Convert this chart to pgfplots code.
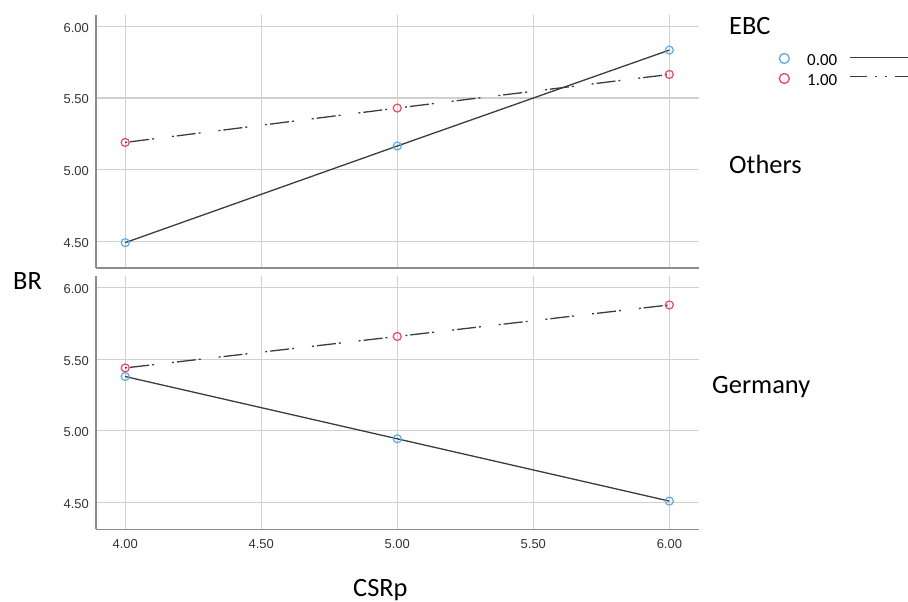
\documentclass[border=0pt]{standalone}
\usepackage{pgfplots}
\pgfplotsset{compat=1.18}
\usepackage{fontspec}
\setmainfont{Carlito}
\newfontfamily\tickfont{Liberation Sans}
\definecolor{ebcblue}{RGB}{91,173,230}
\definecolor{ebcred}{RGB}{235,70,100}
\definecolor{linegray}{RGB}{60,60,60}
\definecolor{gridgray}{RGB}{208,208,208}
\definecolor{axisgray}{RGB}{140,140,140}
\definecolor{tickgray}{RGB}{51,51,51}
\tikzset{dashdotdot/.style={dash pattern=on 2bp off 3bp on 19bp off 3bp on 2bp off 18bp},
  legdash/.style={dash pattern=on 17bp off 8bp on 2bp off 8bp on 2bp off 8bp}}
\pgfplotsset{
  panel/.style={scale only axis, width=603bp, height=253bp,
    xmin=3.8926, xmax=6.109, ymin=4.313, ymax=6.08,
    xtick={4,4.5,5,5.5,6}, ytick={4.5,5,5.5,6},
    grid=major, major grid style={gridgray, line width=1.1bp},
    axis lines*=left, axis line style={axisgray, line width=1.5bp, -},
    major tick length=0pt,
    tick label style={font=\fontsize{13}{13}\selectfont\tickfont, text=tickgray, inner sep=0pt},
    xticklabel style={yshift=-10bp}, yticklabel style={xshift=-7bp, yshift=-1.5bp},
    /pgf/number format/.cd, fixed, fixed zerofill, precision=2, assume math mode=true},
  s0/.style={linegray, line width=1.3bp, mark=o, mark size=4bp, mark options={ebcblue, solid, line width=1.2bp}},
  s1/.style={linegray, line width=1.3bp, dashdotdot, mark=o, mark size=4bp, mark options={ebcred, solid, line width=1.2bp}},
}
\begin{document}
\begin{tikzpicture}
\useasboundingbox (0,0) rectangle (908bp,602bp);
% Top panel: Others
\begin{axis}[panel, at={(96bp,334bp)}, anchor=south west, xticklabels={},
  legend cell align=left,
  legend style={draw=none, fill=none, at={(axis description cs:1.1318,0.8526)}, anchor=north west,
    inner sep=0pt, row sep=0pt, font=\fontsize{17}{20}\selectfont,
    nodes={inner sep=0pt, text height=13bp, text depth=7bp}}]
\addlegendimage{legend image code/.code={\path[draw=none] (0bp,4bp) -- (28.4bp,4bp); \draw[ebcblue, solid, line width=1.3bp] (5.5bp,4bp) circle[radius=5bp]; \draw[overlay, linegray, solid, line width=1.5bp] (71.5bp,5bp) -- (150bp,5bp);}}
\addlegendentry{0.00}
\addlegendimage{legend image code/.code={\path[draw=none] (0bp,4bp) -- (28.4bp,4bp); \draw[ebcred, solid, line width=1.3bp] (5.5bp,4bp) circle[radius=5bp]; \draw[overlay, linegray, line width=1.5bp, legdash] (71.5bp,6bp) -- (150bp,6bp);}}
\addlegendentry{1.00}
\addplot[s0, forget plot] coordinates {(4,4.49) (5,5.165) (6,5.835)};
\addplot[s1, forget plot] coordinates {(4,5.19) (5,5.43) (6,5.665)};
\end{axis}
% Bottom panel: Germany
\begin{axis}[panel, at={(96bp,72.7bp)}, anchor=south west]
\addplot[s0] coordinates {(4,5.38) (5,4.945) (6,4.51)};
\addplot[s1] coordinates {(4,5.44) (5,5.66) (6,5.88)};
\end{axis}
\tikzset{lab/.style={anchor=base west, inner sep=0pt, font=\fontsize{26.5}{30}\selectfont}}
\node[lab] at (729bp,567bp) {EBC};
\node[lab] at (729bp,428.7bp) {Others};
\node[lab] at (712bp,208bp) {Germany};
\node[lab] at (13bp,312bp) {BR};
\node[lab] at (353bp,6bp) {CSRp};
\end{tikzpicture}
\end{document}
